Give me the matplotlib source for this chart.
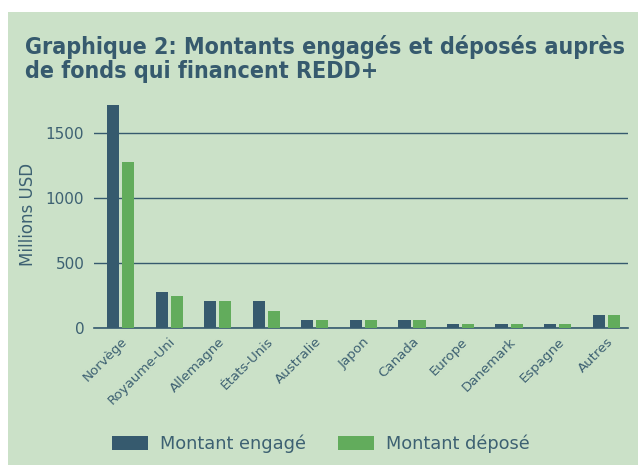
import matplotlib.pyplot as plt
import matplotlib.patches as mpatches
import numpy as np

# data (millions USD)
pays = ["Norvège", "Royaume-Uni", "Allemagne", "États-Unis", "Australie", "Japon",
        "Canada", "Europe", "Danemark", "Espagne", "Autres"]
engage = [1720, 275, 205, 205, 64, 64, 64, 33, 33, 33, 103]
depose = [1275, 244, 205, 133, 64, 64, 64, 33, 33, 33, 103]

bg = "#cbe1c8"
dark = "#365a6e"
green = "#62ac5c"
txt = "#3d6172"

fig = plt.figure(figsize=(6.38, 4.65), dpi=100)
fig.patch.set_facecolor("white")
fig.patches.append(mpatches.Rectangle((8/638, 0), 1 - 8/638, 1 - 12/465,
                                      transform=fig.transFigure, facecolor=bg,
                                      edgecolor="none", zorder=-10))

# title
fig.text(25/638, 1 - 54/465, "Graphique 2: Montants engagés et déposés auprès",
         fontsize=16.7, fontweight="bold", color=dark, fontstretch="condensed",
         family="DejaVu Sans")
fig.text(25/638, 1 - 78/465, "de fonds qui financent REDD+",
         fontsize=16.7, fontweight="bold", color=dark, fontstretch="condensed",
         family="DejaVu Sans")

ax = fig.add_axes([94/638, 1 - 328/465, (628 - 94)/638, (328 - 100)/465])
ax.set_facecolor("none")
x = np.arange(len(pays))
w = 0.25
ax.bar(x - 0.155, engage, w, color=dark, label="Montant engagé", zorder=3)
ax.bar(x + 0.155, depose, w, color=green, label="Montant déposé", zorder=3)

ax.set_xlim(-0.55, 10.45)
ax.set_ylim(0, 1755)
ax.set_yticks([0, 500, 1000, 1500])
ax.grid(axis="y", color=dark, linewidth=1, zorder=1)
for s in ["top", "right", "left"]:
    ax.spines[s].set_visible(False)
ax.spines["bottom"].set_color(dark)
ax.spines["bottom"].set_linewidth(1.2)
ax.tick_params(axis="y", length=0, labelsize=11, labelcolor=txt, pad=7)
ax.tick_params(axis="x", length=0, labelsize=9.6, labelcolor=txt, pad=5)
ax.set_xticks(x)
ax.set_xticklabels(pays, rotation=45, ha="right", rotation_mode="anchor")
ax.set_ylabel("Millions USD", fontsize=12, color=txt, labelpad=6)

fig.legend(loc="center", bbox_to_anchor=(0.503, 0.045), ncol=2, frameon=False,
           fontsize=12.8, labelcolor=txt, handlelength=2.0, handleheight=0.85,
           handletextpad=0.7, columnspacing=1.8)

fig.savefig("out.png", dpi=100, facecolor=fig.get_facecolor())
